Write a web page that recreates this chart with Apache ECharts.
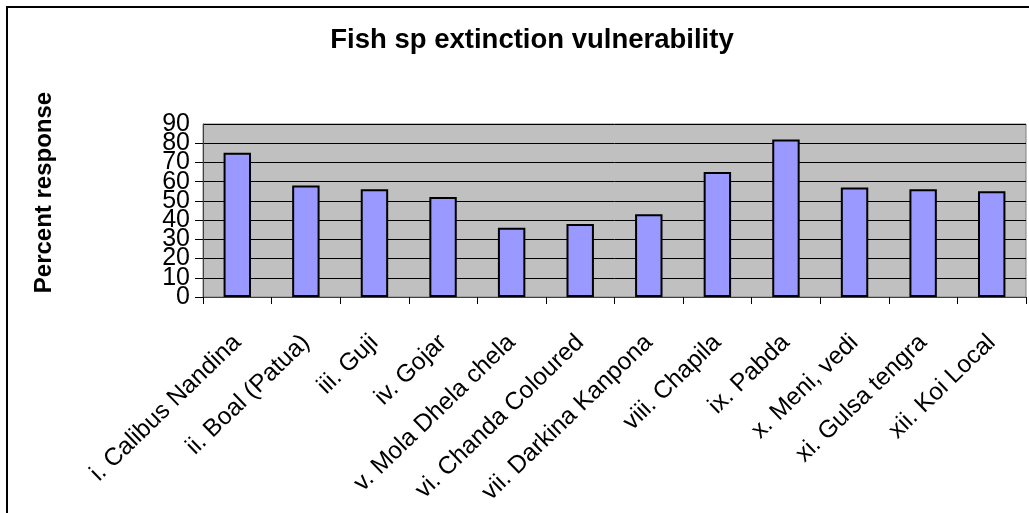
<!DOCTYPE html>
<html>
<head>
<meta charset="utf-8">
<script src="https://cdn.jsdelivr.net/npm/echarts@6/dist/echarts.min.js"></script>
<style>
html,body{margin:0;padding:0;background:#fff;overflow:hidden;}
#frame{position:absolute;left:6px;top:6px;width:1100px;height:600px;border-left:2px solid #000;border-top:2px solid #000;}
#chart{position:absolute;left:0;top:0;width:1029px;height:513px;}
</style>
</head>
<body>
<div id="frame"></div>
<div id="chart"></div>
<script>
var titleText = 'Fish sp extinction vulnerability';
var yAxisName = 'Percent response';
var categories = ['i. Calibus Nandina','ii. Boal (Patua)','iii. Guji','iv. Gojar','v. Mola Dhela chela','vi. Chanda Coloured','vii. Darkina Kanpona','viii. Chapila','ix. Pabda','x. Meni, vedi','xi. Gulsa tengra','xii. Koi Local'];
var values = [75, 58, 56, 52, 36, 38, 43, 65, 82, 57, 56, 55];
var yTickLabels = ['0','10','20','30','40','50','60','70','80','90'];
var yMin = 0, yMax = 90, yStep = 10;

var chart = echarts.init(document.getElementById('chart'), null, {renderer:'canvas'});
var font = 'Liberation Sans, Arial, sans-serif';

// The tick labels overlap slightly (as in the reference); split them over two
// coincident axes so ECharts does not drop any of them.
function labelFor(parity){
  return function(v){
    var i = Math.round((v - yMin) / yStep);
    return (i % 2 === parity) ? (yTickLabels[i] || '') : '';
  };
}
var yLabelStyle = {margin:13, fontSize:25, color:'#000', fontFamily:font};

chart.setOption({
  animation:false,
  textStyle:{fontFamily:font},
  title:{
    text:titleText, left:527, top:21, textAlign:'center',
    textStyle:{fontFamily:font, fontSize:27.5, fontWeight:'bold', color:'#000'}
  },
  grid:{left:203, right:3, top:124, bottom:216, show:true, backgroundColor:'#C0C0C0', borderColor:'#808080', borderWidth:1},
  xAxis:{
    type:'category', data:categories, boundaryGap:true,
    axisLine:{lineStyle:{color:'#404040', width:1}},
    axisTick:{show:true, alignWithLabel:false, length:7, lineStyle:{color:'#000'}},
    axisLabel:{interval:0, rotate:44, margin:42, fontSize:24.5, color:'#000', fontFamily:font}
  },
  yAxis:[{
    type:'value', min:yMin, max:yMax, interval:yStep, position:'left', offset:0,
    name:yAxisName, nameLocation:'middle', nameGap:147, nameRotate:90,
    nameTextStyle:{fontFamily:font, fontSize:24, fontWeight:'bold', color:'#000', padding:[0,0,0,36]},
    axisLine:{show:true, lineStyle:{color:'#404040', width:1}},
    axisTick:{show:true, length:8, lineStyle:{color:'#000'}},
    axisLabel:Object.assign({formatter:labelFor(0), showMinLabel:true, showMaxLabel:false}, yLabelStyle),
    splitLine:{show:true, lineStyle:{color:'#000', width:1}}
  },{
    type:'value', min:yMin, max:yMax, interval:yStep, position:'left', offset:0,
    axisLine:{show:false}, axisTick:{show:false}, splitLine:{show:false},
    axisLabel:Object.assign({formatter:labelFor(1), showMinLabel:false, showMaxLabel:true}, yLabelStyle)
  }],
  series:[{
    type:'bar', data:values, barWidth:'40%', yAxisIndex:0,
    itemStyle:{color:'#9999FF', borderColor:'#000', borderWidth:2}
  }]
});
</script>
</body>
</html>
